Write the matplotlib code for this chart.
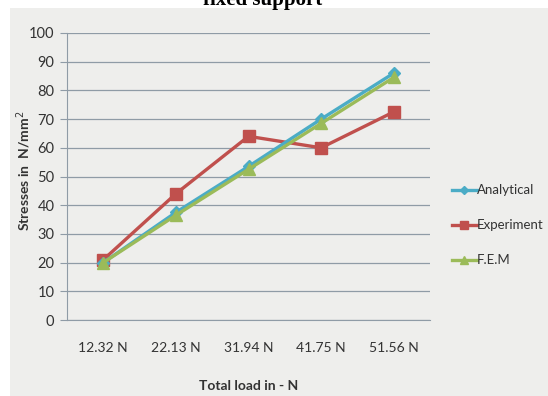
import matplotlib
matplotlib.use("Agg")
import matplotlib.pyplot as plt
from matplotlib.patches import Rectangle

categories = ["12.32 N", "22.13 N", "31.94 N", "41.75 N", "51.56 N"]
analytical = [20, 37.5, 53.5, 70, 86]
experiment = [21, 44, 64, 60, 72.5]
fem = [20, 36.5, 52.5, 68.5, 84.5]
y_ticks = list(range(0, 101, 10))

plt.rcParams['font.family'] = ['Lato', 'DejaVu Sans']

fig = plt.figure(figsize=(5.48, 3.96), dpi=100)
fig.patch.set_facecolor('white')
# paper-coloured chart panel, kept behind the axes
fig.patches.append(Rectangle((10 / 548, 0), 538 / 548, 388 / 396,
                             transform=fig.transFigure, facecolor='#eeeeec',
                             edgecolor='none', zorder=-10))

ax = fig.add_axes([67 / 548, 1 - 320 / 396, 363 / 548, 287 / 396])
ax.set_facecolor('none')

x = range(len(categories))
ax.plot(x, analytical, color='#4BACC6', lw=2.4, marker='D', ms=6, label='Analytical', zorder=3)
ax.plot(x, experiment, color='#C0504D', lw=2.4, marker='s', ms=8, label='Experiment', zorder=2)
ax.plot(x, fem, color='#9BBB59', lw=2.4, marker='^', ms=8, label='F.E.M', zorder=4)

ax.set_xlim(-0.5, len(categories) - 0.5)
ax.set_ylim(0, 100)
ax.set_yticks(y_ticks)
ax.set_xticks(list(x))
ax.set_xticklabels(categories)
ax.yaxis.grid(True, color='#8f9ba6', lw=0.9)
ax.set_axisbelow(True)

for s in ['top', 'right']:
    ax.spines[s].set_visible(False)
ax.spines['left'].set_color('#8f9ba6')
ax.spines['bottom'].set_color('#8f9ba6')
ax.tick_params(axis='y', length=5, color='#8f9ba6', labelsize=10.5, labelcolor='#333333', pad=4)
ax.tick_params(axis='x', length=0, labelsize=10, labelcolor='#333333', pad=16)

ax.set_xlabel('Total load in - N', fontsize=10, fontweight='bold', color='#333333')
ax.xaxis.set_label_coords(0.5, -0.21)
ax.set_ylabel('Stresses in  N/mm$^2$', fontsize=10, fontweight='bold', color='#333333')
ax.yaxis.set_label_coords(-0.095, 0.52)

leg = ax.legend(loc='center left', bbox_to_anchor=(1.045, 0.33), frameon=False,
                borderaxespad=0, fontsize=9.5, labelspacing=1.75, handlelength=1.9,
                handletextpad=0.0, labelcolor='#333333', markerscale=0.75)

fig.text(0.48, 1.0, 'fixed support', ha='center', va='center',
         family='Liberation Serif', fontweight='bold', fontsize=15)

fig.savefig('out.png', dpi=100)
